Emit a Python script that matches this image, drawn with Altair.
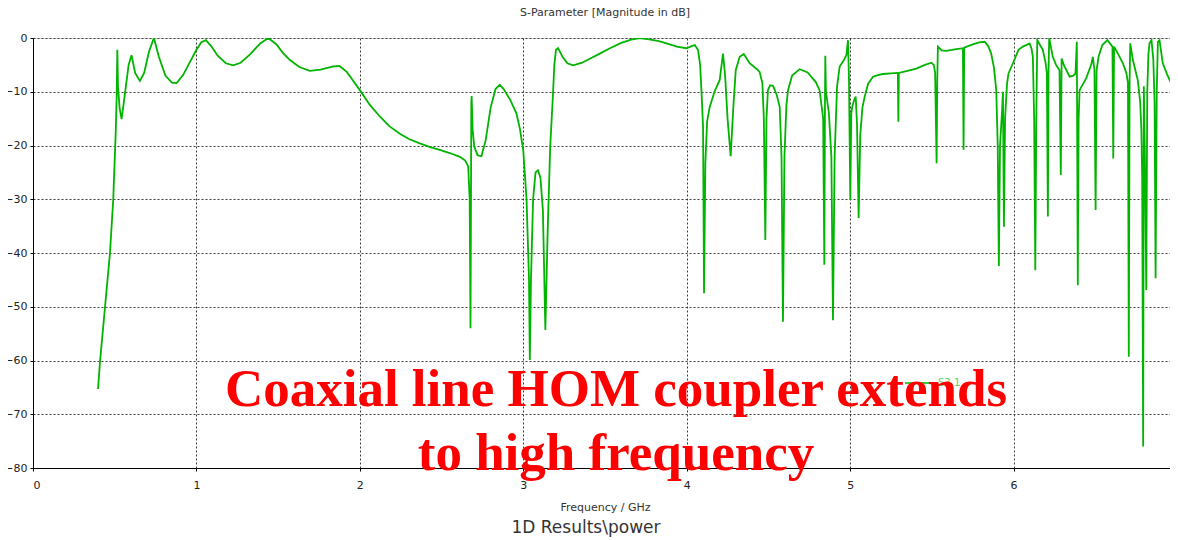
import altair as alt
import pandas as pd

# S2,1 magnitude (dB) vs frequency (GHz)
freq = [
    0.398, 0.41, 0.471, 0.491, 0.506, 0.512, 0.516, 0.520, 0.530, 0.542, 0.56, 0.585, 0.603, 0.625, 0.654,
    0.68, 0.71, 0.74, 0.77, 0.81, 0.85, 0.879, 0.92, 0.96, 1.0, 1.03, 1.058, 1.09, 1.13, 1.18, 1.225,
    1.27, 1.33, 1.39, 1.44, 1.49, 1.53, 1.572, 1.63, 1.694, 1.76, 1.837, 1.875, 1.92, 1.96, 2.0, 2.06,
    2.122, 2.18, 2.245, 2.30, 2.367, 2.43, 2.489, 2.55, 2.612, 2.645, 2.663, 2.672, 2.677, 2.680, 2.682,
    2.684, 2.690, 2.70, 2.72, 2.744, 2.77, 2.80, 2.83, 2.856, 2.88, 2.92, 2.958, 2.98, 3.0, 3.02, 3.035,
    3.04, 3.047, 3.06, 3.075, 3.09, 3.105, 3.12, 3.135, 3.15, 3.165, 3.18, 3.19, 3.2, 3.213, 3.24, 3.27,
    3.305, 3.36, 3.41, 3.468, 3.53, 3.6, 3.66, 3.713, 3.78, 3.83, 3.876, 3.94, 3.998, 4.03, 4.049, 4.069,
    4.082, 4.09, 4.1, 4.106, 4.114, 4.125, 4.141, 4.17, 4.202, 4.222, 4.235, 4.25, 4.269, 4.285, 4.30,
    4.324, 4.349, 4.385, 4.43, 4.446, 4.463, 4.472, 4.481, 4.488, 4.497, 4.51, 4.528, 4.55, 4.569, 4.58,
    4.589, 4.598, 4.61, 4.62, 4.645, 4.691, 4.74, 4.79, 4.813, 4.835, 4.842, 4.846, 4.848, 4.852, 4.87,
    4.885, 4.895, 4.905, 4.92, 4.936, 4.96, 4.977, 4.987, 4.993, 5.001, 5.007, 5.013, 5.025, 5.034, 5.042,
    5.052, 5.062, 5.075, 5.089, 5.11, 5.14, 5.17, 5.2, 5.25, 5.292, 5.295, 5.298, 5.35, 5.405, 5.45,
    5.497, 5.512, 5.52, 5.529, 5.533, 5.537, 5.56, 5.588, 5.64, 5.69, 5.694, 5.698, 5.75, 5.79, 5.823,
    5.845, 5.863, 5.88, 5.894, 5.903, 5.91, 5.917, 5.93, 5.935, 5.941, 5.948, 5.96, 5.969, 5.996, 6.03,
    6.057, 6.098, 6.11, 6.118, 6.126, 6.133, 6.139, 6.145, 6.16, 6.179, 6.195, 6.204, 6.21, 6.214, 6.218,
    6.24, 6.26, 6.281, 6.289, 6.294, 6.31, 6.343, 6.365, 6.379, 6.387, 6.393, 6.398, 6.404, 6.444, 6.475,
    6.485, 6.495, 6.502, 6.508, 6.52, 6.543, 6.574, 6.59, 6.605, 6.61, 6.615, 6.64, 6.669, 6.69, 6.7,
    6.705, 6.71, 6.714, 6.73, 6.76, 6.775, 6.782, 6.787, 6.793, 6.797, 6.805, 6.812, 6.818, 6.825, 6.832,
    6.844, 6.855, 6.863, 6.869, 6.876, 6.883, 6.893, 6.913, 6.94, 6.964, 6.985, 6.991, 6.995, 7.0,
]
s21_db = [
    -65.3, -60.2, -40, -30, -17.7, -10.9, -2.2, -9, -13, -15.1, -11, -5, -3.2, -6.5, -8.0,
    -6.5, -2.5, 0, -3.5, -7, -8.3, -8.4, -6.8, -4.5, -2.2, -0.8, -0.4, -1.5, -3.3, -4.7, -5.1,
    -4.6, -3.0, -1.0, 0, -1.2, -2.8, -4.1, -5.4, -6.1, -5.9, -5.3, -5.2, -6.3, -8.0, -9.7, -12.4,
    -14.6, -16.4, -17.8, -18.8, -19.6, -20.3, -20.8, -21.4, -22.1, -22.8, -23.9, -30, -54, -30, -12,
    -10.8, -17, -20.2, -21.8, -22.0, -19, -13, -9.5, -8.7, -9.5, -11.5, -14, -17, -21, -30, -45,
    -59.9, -45, -30, -25, -24.6, -26, -32, -54.3, -35, -20, -11.5, -5, -2.2, -1.9, -3.5, -4.7,
    -5.1, -4.6, -3.8, -2.9, -1.9, -0.9, -0.3, 0, -0.3, -0.6, -1.0, -1.6, -1.9, -1.5, -1.3, -2.2,
    -5, -9.7, -16.5, -47.5, -23.3, -15.5, -12.8, -10, -7.8, -2.9, -7, -15, -22.0, -13, -6,
    -3.5, -3.0, -4.7, -5.8, -6.3, -8.4, -15, -37.6, -15, -9.7, -8.8, -8.9, -10.5, -12.8, -22,
    -52.8, -22, -12.5, -9.7, -7, -5.8, -6.4, -8.2, -9.7, -15, -42.2, -12, -3.3, -10, -14,
    -22, -52.5, -22, -9, -5.3, -4.2, -3.2, -0.4, -8, -30.1, -14, -12.8, -11.5, -10.9, -16,
    -33.5, -18, -13, -10.9, -8.5, -7.2, -6.9, -6.7, -6.6, -6.5, -15.6, -6.5, -6.1, -5.7, -5.1,
    -4.6, -5.0, -6.5, -23.3, -8, -1.6, -2.3, -2.4, -2.1, -1.9, -20.8, -1.8, -1.2, -0.8, -0.7,
    -1.5, -2.9, -5.5, -9.7, -20, -42.4, -20, -13.4, -10, -35.1, -15, -8.5, -6.6, -4.7, -2.2,
    -1.6, -1.0, -2.0, -3.5, -15, -43.2, -15, -0.4, -1.2, -2.2, -4.5, -6.6, -33.2, -6, 0,
    -3.5, -5.0, -6.0, -25.5, -3.8, -5.2, -7.2, -7.0, -6.6, -0.7, -46.0, -15, -9.7, -7.5, -5,
    -3.5, -6, -32.0, -6, -3.5, -1.3, -0.4, -1.0, -1.6, -22.4, -1.6, -3.0, -4.7, -6.5, -8.4,
    -59.3, -8, -1.0, -4.1, -7.8, -12, -17.1, -25.8, -76.0, -9, -25, -46.9, -10, -3, -1.0,
    -0.4, -4, -12, -44.7, -10, -0.7, -0.4, -4.7, -6.8, -8.4, -10.3, -36.0, -15, -10.9,
]

x_ticks = [0, 1, 2, 3, 4, 5, 6, 7]
y_ticks = [-80, -70, -60, -50, -40, -30, -20, -10, 0]

df = pd.DataFrame({"f": freq, "db": s21_db, "i": list(range(len(freq)))})

W, H = 1144, 430
GREEN = "#00b400"
one = pd.DataFrame({"k": [0]})

line = alt.Chart(df).mark_line(color=GREEN, strokeWidth=1.8, clip=True).encode(
    x=alt.X("f:Q", title="Frequency / GHz",
            scale=alt.Scale(domain=[0, 7], nice=False, zero=False),
            axis=alt.Axis(values=x_ticks, format="d", grid=True, gridDash=[2, 2],
                          gridColor="#3a3a3a", gridWidth=1, tickSize=3, tickColor="#000",
                          domainColor="#000", labelPadding=8, labelFontSize=11,
                          labelColor="#222", labelFont="DejaVu Sans",
                          titleFont="DejaVu Sans", titleFontSize=11, titleFontWeight="normal",
                          titleColor="#333", titlePadding=11)),
    y=alt.Y("db:Q", title=None,
            scale=alt.Scale(domain=[-80, 0], nice=False, zero=False),
            axis=alt.Axis(values=y_ticks, grid=True, gridDash=[2, 2], gridColor="#3a3a3a",
                          gridWidth=1, tickSize=3, tickColor="#000", domainColor="#000",
                          labelPadding=3, labelFontSize=11, labelColor="#222",
                          labelFont="DejaVu Sans")),
    order="i:Q",
)

top_title = alt.Chart(one).mark_text(
    text="S-Parameter [Magnitude in dB]", font="DejaVu Sans", fontSize=11, color="#333",
    align="center", baseline="middle",
).encode(x=alt.value(W / 2), y=alt.value(-25))

footer = alt.Chart(one).mark_text(
    text="1D Results\\power", font="DejaVu Sans", fontSize=17, color="#333",
    align="center", baseline="middle",
).encode(x=alt.value(553), y=alt.value(490))

legend_line = alt.Chart(one).mark_rule(color=GREEN, strokeWidth=1.5).encode(
    x=alt.value(872), x2=alt.value(900), y=alt.value(345))
legend_text = alt.Chart(one).mark_text(
    text="S2,1", font="DejaVu Sans", fontSize=10, color="#5fcf5f",
    align="left", baseline="middle",
).encode(x=alt.value(905), y=alt.value(345))

note1 = alt.Chart(one).mark_text(
    text="Coaxial line HOM coupler extends", font="Liberation Serif", fontSize=53,
    fontWeight="bold", color="#ff0000", align="center", baseline="alphabetic",
).encode(x=alt.value(583), y=alt.value(368))
note2 = alt.Chart(one).mark_text(
    text="to high frequency", font="Liberation Serif", fontSize=53,
    fontWeight="bold", color="#ff0000", align="center", baseline="alphabetic",
).encode(x=alt.value(583), y=alt.value(432))

chart = alt.layer(line, top_title, footer, legend_line, legend_text, note1, note2).properties(
    width=W, height=H,
    autosize=alt.AutoSizeParams(type="none"),
    padding={"left": 25, "top": 30, "right": -7, "bottom": 70},
).configure_view(stroke="#8a8a8a", strokeWidth=1).configure(background="white")

chart.save("out.html", embed_options={"renderer": "svg", "actions": False})
